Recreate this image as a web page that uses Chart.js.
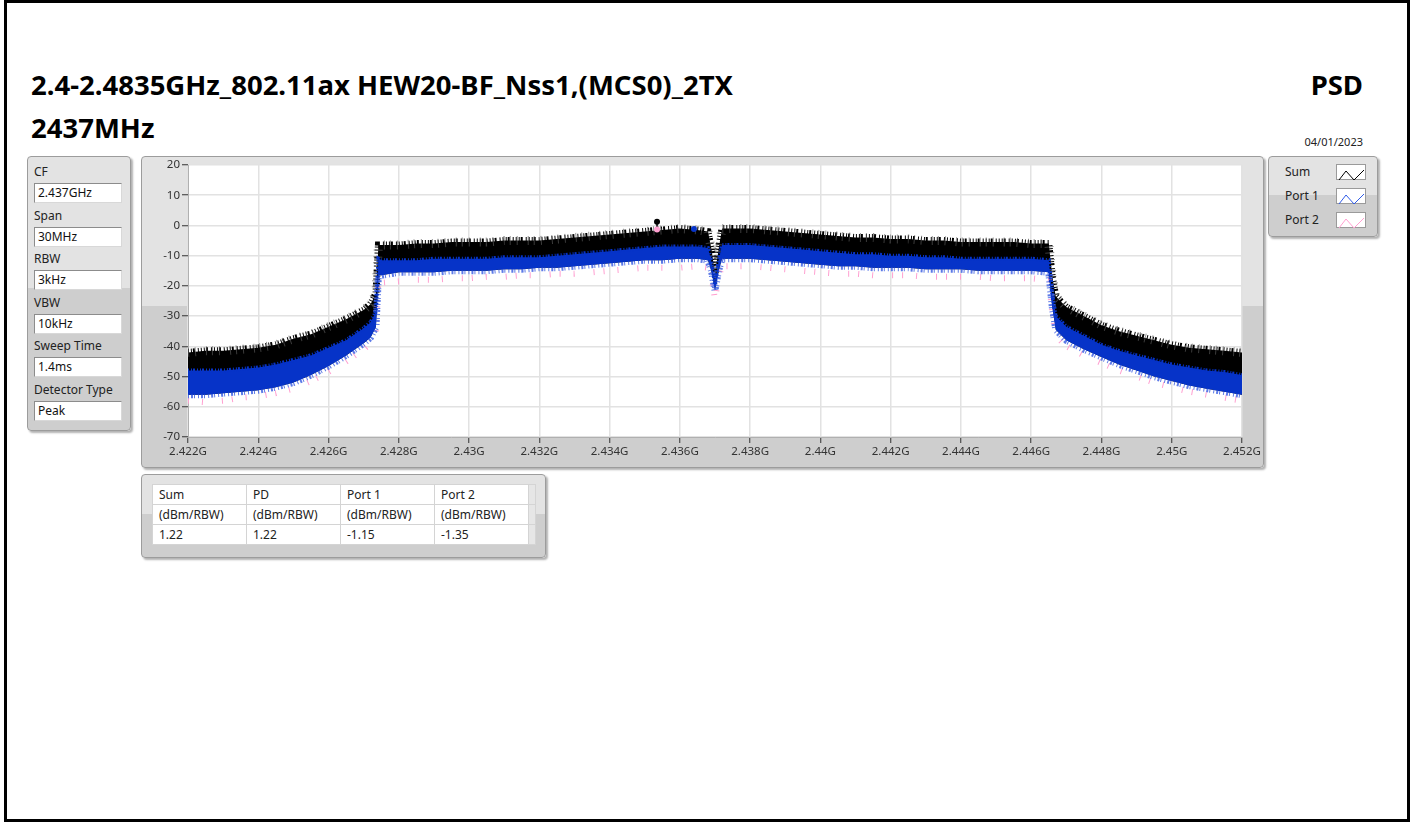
<!DOCTYPE html>
<html>
<head>
<meta charset="utf-8">
<title>PSD 2437MHz</title>
<script src="https://cdn.jsdelivr.net/npm/chart.js@4.4.1/dist/chart.umd.min.js"></script>
<style>
  html, body { margin: 0; padding: 0; background: #fff; }
  body { width: 1412px; height: 822px; position: relative; overflow: hidden;
         font-family: "Noto Sans", "Open Sans", sans-serif; color: #111; }
  .page { position: absolute; left: 4px; top: 0; width: 1400px; height: 816px; border: 3px solid #000; }
  .title { position: absolute; font-weight: bold; font-size: 27.5px; line-height: 1; white-space: nowrap; color: #000; }
  .date { position: absolute; right: 49px; top: 134px; font-size: 11px; color: #222; }
  .panel { position: absolute; border: 1px solid #9c9c9c; border-radius: 4px;
           background: linear-gradient(#e3e3e3 0, #e3e3e3 48%, #cecece 48%, #cecece 100%);
           box-shadow: 2px 2px 2px rgba(0,0,0,0.3); box-sizing: border-box; }
  .lbl { position: absolute; left: 6px; font-size: 12px; color: #222; }
  .val { position: absolute; left: 6px; width: 88px; height: 20px; box-sizing: border-box;
         background: #fff; border: 1px solid #8c8c8c; border-right-color: #d8d8d8; border-bottom-color: #d8d8d8;
         font-size: 12px; line-height: 18px; padding-left: 3px; color: #111; }
  #chartBox { position: absolute; left: 141px; top: 156px; width: 1123px; height: 312px; }
  .leg { position: absolute; left: 16px; font-size: 12px; color: #222; }
  .sw { position: absolute; left: 67px; width: 30px; height: 16px; background: #fff; border: 1px solid #9a9a9a; box-sizing: border-box; }
  table { position: absolute; left: 10px; top: 9px; border-collapse: collapse; background: #fff; font-size: 12px; }
  td { border: 1px solid #d4d4d4; height: 19px; padding: 0 0 0 6px; color: #222; white-space: nowrap; }
  td.gap { background: #e6e6e6; padding: 0; width: 6px; }
</style>
</head>
<body>
<div class="page"></div>
<div class="title" style="left:31px; top:71px;">2.4-2.4835GHz_802.11ax HEW20-BF_Nss1,(MCS0)_2TX</div>
<div class="title" style="left:31px; top:114px;">2437MHz</div>
<div class="title" style="right:49px; top:71px;">PSD</div>
<div class="date">04/01/2023</div>

<div class="panel" style="left:27px; top:156px; width:104px; height:275px;" id="settings"></div>

<div class="panel" style="left:141px; top:156px; width:1123px; height:312px;"></div>
<div id="chartBox"><canvas id="psd"></canvas></div>

<div class="panel" style="left:1268px; top:156px; width:110px; height:81px;" id="legend"></div>

<div class="panel" style="left:141px; top:474px; width:405px; height:84px;" id="result"></div>

<script>
// measurement settings shown on the left
const settingNames = ['CF', 'Span', 'RBW', 'VBW', 'Sweep Time', 'Detector Type'];
const settingValues = ['2.437GHz', '30MHz', '3kHz', '10kHz', '1.4ms', 'Peak'];

// trace names and colours
const traceNames = ['Sum', 'Port 1', 'Port 2'];
const traceColors = ['#000000', '#2f5be8', '#ff9fd0'];

// result table
const resultHeads = ['Sum', 'PD', 'Port 1', 'Port 2'];
const resultUnits = ['(dBm/RBW)', '(dBm/RBW)', '(dBm/RBW)', '(dBm/RBW)'];
const resultValues = ['1.22', '1.22', '-1.15', '-1.35'];

// frequency points (MHz) where the trace envelopes were read
const freqMHz = [2422, 2422.5, 2423, 2423.5, 2424, 2424.5, 2425, 2425.5, 2426, 2426.5,
  2427, 2427.2, 2427.35, 2427.42, 2427.5, 2428, 2428.5, 2429, 2429.5, 2430,
  2430.5, 2431, 2431.5, 2432, 2432.5, 2433, 2433.5, 2434, 2434.5, 2435,
  2435.5, 2436, 2436.5, 2436.8, 2436.9, 2437, 2437.1, 2437.2, 2437.5, 2438,
  2438.5, 2439, 2439.5, 2440, 2440.5, 2441, 2441.5, 2442, 2442.5, 2443,
  2443.5, 2444, 2444.5, 2445, 2445.5, 2446, 2446.5, 2446.6, 2446.7, 2447,
  2447.5, 2448, 2448.5, 2449, 2449.5, 2450, 2450.5, 2451, 2451.5, 2452];

// Sum trace, upper edge (dBm)
const sumHigh = [-42, -41.5, -41.5, -41, -40.5, -39.5, -37.5, -36, -33.5, -31,
  -28, -26, -22.5, -6.5, -6.5, -6.5, -6, -6, -5.5, -5.5,
  -5.5, -5, -5, -5, -4.5, -4, -3.5, -3, -2.5, -2,
  -1.5, -1, -1.5, -2, -8, -16, -8, -1, -1, -1,
  -1.5, -2, -2.5, -3, -3.5, -4, -4, -4.5, -4.5, -5,
  -5, -5.5, -5.5, -5.5, -5.5, -6, -6, -17, -23.5, -27,
  -30, -33, -35, -36.5, -38, -39.5, -40.5, -41, -41.5, -42];

// Port 1 trace, upper and lower edge (dBm)
const port1High = [-48, -48, -48, -47.5, -47, -46, -44.5, -43, -40.5, -38,
  -34, -32, -28.5, -11, -11.5, -11.5, -11.5, -11, -11, -11,
  -11, -10.5, -10.5, -10.5, -10, -9.5, -9, -8.5, -8, -7.5,
  -7, -7, -7, -7.5, -12, -19.5, -12, -6.5, -6.5, -6.5,
  -7, -7.5, -8, -8.5, -9, -9.5, -9.5, -10, -10, -10.5,
  -10.5, -11, -11, -11, -11, -11, -11.5, -23, -30, -33.5,
  -36.5, -39.5, -41.5, -43, -44.5, -46, -47, -48, -48.5, -49.5];
const port1Low = [-56, -56, -55.5, -55, -54.5, -53.5, -52, -49.5, -46.5, -43,
  -39, -37, -33.5, -16.5, -16.5, -15.5, -15.5, -15.5, -15, -15,
  -15, -14.5, -14.5, -14, -14, -13.5, -13, -12.5, -12, -11.5,
  -11.5, -11, -11, -11.5, -15, -21.5, -15, -11, -11, -11,
  -11.5, -12, -12.5, -13, -13.5, -13.5, -14, -14, -14, -14.5,
  -14.5, -14.5, -15, -15, -15, -15, -15.5, -27, -34.5, -38,
  -41, -43.5, -46, -48, -50, -51.5, -53, -54, -55, -56];

// Port 2 trace, lower edge (dBm); its upper part lies under Port 1
const port2Low = [-58, -58.5, -58, -57, -56.5, -55.5, -54, -51.5, -48.5, -45,
  -41, -39, -35.5, -19, -19, -18.5, -18, -18, -17.5, -17.5,
  -17, -17, -16.5, -16.5, -16, -16, -15.5, -15, -14.5, -14,
  -14, -14, -13.5, -14, -17, -24.5, -17, -13.5, -13.5, -13.5,
  -14, -14.5, -15, -15.5, -16, -16, -16.5, -16.5, -16.5, -17,
  -17, -17, -17, -17.5, -17.5, -17.5, -18, -29, -36.5, -40,
  -43, -45.5, -48, -50, -52, -53.5, -55, -56, -57, -58];

// peak markers: Sum, Port 2, Port 1
const markerFreqMHz = [2435.35, 2435.35, 2436.4];
const markerLevel = [1.22, -1.35, -1.15];

const xTicks = [2.422, 2.424, 2.426, 2.428, 2.43, 2.432, 2.434, 2.436, 2.438, 2.44,
  2.442, 2.444, 2.446, 2.448, 2.45, 2.452];

/* ---- side panels ---- */
function buildSettings() {
  const box = document.getElementById('settings');
  settingNames.forEach((name, i) => {
    const l = document.createElement('div');
    l.className = 'lbl';
    l.style.top = (6 + i * 43.6) + 'px';
    l.textContent = name;
    box.appendChild(l);
    const v = document.createElement('div');
    v.className = 'val';
    v.style.top = (26 + i * 43.6) + 'px';
    v.textContent = settingValues[i];
    box.appendChild(v);
  });
}

function buildLegend() {
  const box = document.getElementById('legend');
  traceNames.forEach((name, i) => {
    const l = document.createElement('div');
    l.className = 'leg';
    l.style.top = (6 + i * 24) + 'px';
    l.textContent = name;
    box.appendChild(l);
    const s = document.createElement('div');
    s.className = 'sw';
    s.style.top = (7 + i * 24) + 'px';
    s.innerHTML = '<svg width="28" height="14"><polyline points="2,12 9,3 17,12 27,2" fill="none" stroke="' +
      traceColors[i] + '" stroke-width="1"/></svg>';
    box.appendChild(s);
  });
}

function buildTable() {
  const box = document.getElementById('result');
  const t = document.createElement('table');
  [resultHeads, resultUnits, resultValues].forEach(row => {
    const tr = document.createElement('tr');
    row.forEach(txt => {
      const td = document.createElement('td');
      td.style.width = '87px';
      td.textContent = txt;
      tr.appendChild(td);
    });
    const g = document.createElement('td');
    g.className = 'gap';
    tr.appendChild(g);
    t.appendChild(tr);
  });
  box.appendChild(t);
}

buildSettings();
buildLegend();
buildTable();

/* ---- spectrum chart ---- */
const toPts = ys => freqMHz.map((f, i) => ({ x: f / 1000, y: ys[i] }));
const markerPts = markerFreqMHz.map((f, i) => ({ x: f / 1000, y: markerLevel[i] }));

// white plotting area inside the grey frame
const plotBackground = {
  id: 'plotBackground',
  beforeDraw(chart) {
    const { ctx, chartArea: a } = chart;
    ctx.save();
    ctx.fillStyle = '#ffffff';
    ctx.fillRect(a.left, a.top, a.right - a.left, a.bottom - a.top);
    ctx.restore();
  }
};

// thick dashed edges give the ragged look of the noisy sweep
const edge = (ys, color, width, dash, order, extra) => Object.assign({
  data: toPts(ys), borderColor: color, borderWidth: width, borderDash: dash,
  borderCapStyle: 'butt', pointRadius: 0, fill: false, order: order
}, extra || {});

new Chart(document.getElementById('psd'), {
  type: 'line',
  data: {
    datasets: [
      { data: toPts(port1Low), borderWidth: 0, pointRadius: 0, fill: false, order: 9 },
      edge(sumHigh, '#000', 7, [1, 2, 1, 1, 2, 3, 1, 2], 8, { backgroundColor: '#000', fill: '-1' }),
      edge(sumHigh, 'rgba(90,90,90,0.65)', 9, [1, 6, 1, 10, 1, 5], 7),
      edge(port2Low, '#ff9fd0', 6, [1, 13, 1, 19, 1, 9], 6),
      edge(port1Low, 'rgba(75,108,228,0.9)', 7, [1, 2, 2, 1, 1, 3], 5),
      { data: toPts(port1Low), borderWidth: 0, pointRadius: 0, fill: false, order: 4 },
      edge(port1High, '#0633c8', 4, [1, 2, 1, 1, 2, 2], 3, { backgroundColor: '#0633c8', fill: '-1' }),
      { data: [markerPts[0], markerPts[1]], borderColor: '#000', borderWidth: 1.5, pointRadius: 0, fill: false, order: 1 },
      { type: 'scatter', data: markerPts, pointRadius: 3, borderWidth: 0,
        pointBackgroundColor: ['#000', traceColors[2], '#0633c8'], order: 0 }
    ]
  },
  options: {
    responsive: true,
    maintainAspectRatio: false,
    animation: false,
    layout: { padding: { top: 9, right: 22, left: 0, bottom: 0 } },
    plugins: { legend: { display: false }, tooltip: { enabled: false } },
    elements: { line: { tension: 0 } },
    scales: {
      x: {
        type: 'linear',
        min: 2.422,
        max: 2.452,
        afterBuildTicks: scale => { scale.ticks = xTicks.map(v => ({ value: v })); },
        afterFit: scale => { scale.height = 31; },
        grid: { color: '#e2e2e2', lineWidth: 1.5, tickColor: '#333', tickLength: 6, tickWidth: 1 },
        border: { color: '#b0b0b0', width: 1 },
        ticks: {
          color: '#333', padding: 2, maxRotation: 0, autoSkip: false,
          font: { family: 'Noto Sans', size: 11.5 },
          callback: v => (Math.round(v * 1000) / 1000) + 'G'
        }
      },
      y: {
        min: -70,
        max: 20,
        afterFit: scale => { scale.width = 47; },
        grid: { color: '#e2e2e2', lineWidth: 1.5, tickColor: '#333', tickLength: 6, tickWidth: 1 },
        border: { color: '#b0b0b0', width: 1 },
        ticks: { stepSize: 10, color: '#333', padding: 2, font: { family: 'Noto Sans', size: 11.5 } }
      }
    }
  },
  plugins: [plotBackground]
});
</script>
</body>
</html>
